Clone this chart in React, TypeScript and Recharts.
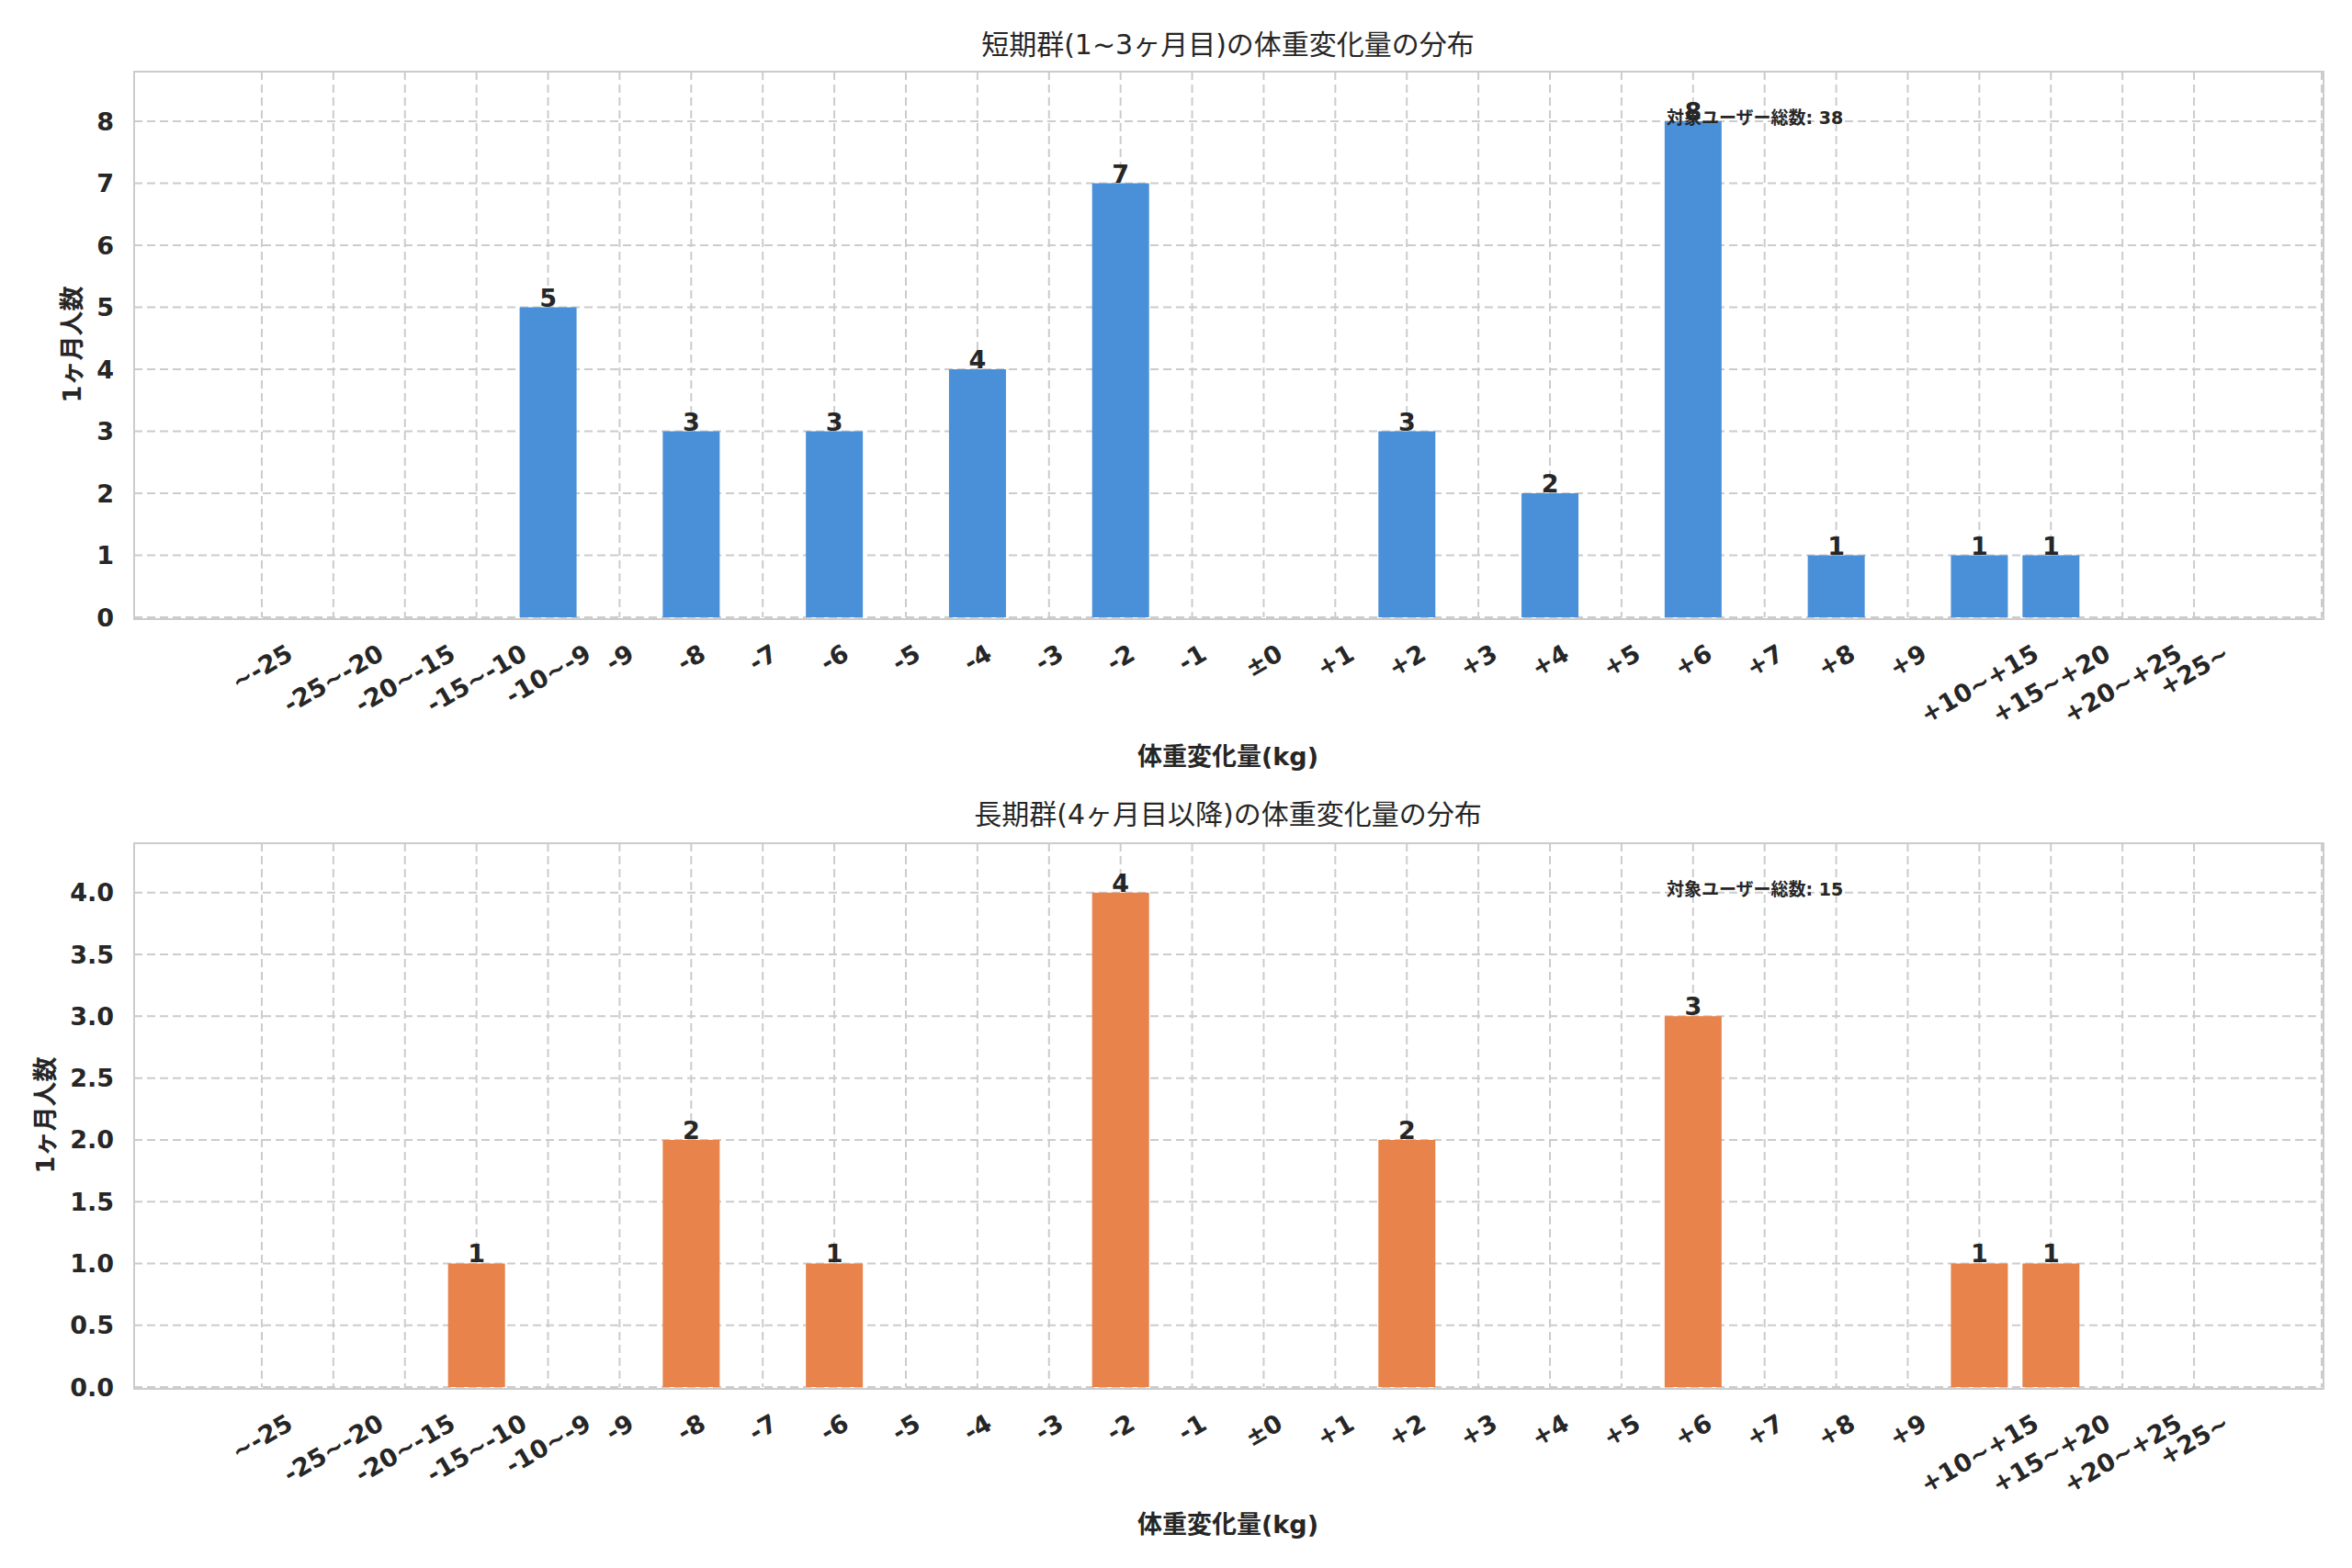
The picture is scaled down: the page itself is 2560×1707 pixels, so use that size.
import React from "react";
import { BarChart, Bar, XAxis, YAxis, CartesianGrid, LabelList } from "recharts";

// weight-change bins (kg)
const bins = [
  "~-25", "-25~-20", "-20~-15", "-15~-10", "-10~-9",
  "-9", "-8", "-7", "-6", "-5", "-4", "-3", "-2", "-1",
  "±0",
  "+1", "+2", "+3", "+4", "+5", "+6", "+7", "+8", "+9",
  "+10~+15", "+15~+20", "+20~+25", "+25~",
];

// people per bin
const shortTermCounts = [0, 0, 0, 0, 5, 0, 3, 0, 3, 0, 4, 0, 7, 0, 0, 0, 3, 0, 2, 0, 8, 0, 1, 0, 1, 1, 0, 0];
const longTermCounts = [0, 0, 0, 1, 0, 0, 2, 0, 1, 0, 0, 0, 4, 0, 0, 0, 2, 0, 0, 0, 3, 0, 0, 0, 1, 1, 0, 0];

const shortTicks = [0, 1, 2, 3, 4, 5, 6, 7, 8];
const longTicks = [0, 0.5, 1, 1.5, 2, 2.5, 3, 3.5, 4];

const FONT = "'DejaVu Sans', 'Noto Sans CJK JP', sans-serif";
const INK = "#262626";
const GRID = "#cccccc";

const W = 2560;
const H = 1707;
const PLOT_LEFT = 146;
const PLOT_RIGHT = 2527;
const Y_AXIS_W = 100;
const X_AXIS_H = 150;

// rough DejaVu Sans Bold advance widths (em)
const charW = (c: string) => {
  if (/[0-9]/.test(c)) return 0.696;
  if (c === "-") return 0.415;
  if (c === "~" || c === "+" || c === "±") return 0.838;
  return 0.7;
};

const RotTick = (props: any) => {
  const { x, y, payload } = props;
  const fs = 27;
  const label = String(payload.value);
  const w = label.split("").reduce((s, c) => s + charW(c), 0) * fs;
  const h = fs * 1.16;
  const bh = w * 0.5 + h * 0.866;
  const cy = y + 23 + bh / 2;
  return (
    <text
      x={x}
      y={cy}
      textAnchor="middle"
      dominantBaseline="central"
      transform={`rotate(-30 ${x} ${cy})`}
      fontFamily={FONT}
      fontWeight="bold"
      fontSize={fs}
      fill={INK}
    >
      {label}
    </text>
  );
};

const BarValue = (props: any) => {
  const { x, y, width, value } = props;
  if (!value) return null;
  return (
    <text
      x={x + width / 2}
      y={y - 1}
      textAnchor="middle"
      fontFamily={FONT}
      fontWeight="bold"
      fontSize={27}
      fill={INK}
    >
      {value}
    </text>
  );
};

type PanelProps = {
  top: number;
  height: number;
  plotTop: number;
  plotBottom: number;
  counts: number[];
  color: string;
  ticks: number[];
  yMax: number;
  fmt: (v: number) => string;
  title: string;
  titleY: number;
  yLabel: string;
  yLabelX: number;
  xLabelY: number;
};

function Panel(p: PanelProps) {
  const data = bins.map((bin, i) => ({ bin, count: p.counts[i] }));
  const total = p.counts.reduce((s, v) => s + v, 0);
  const cx = (PLOT_LEFT + PLOT_RIGHT) / 2;
  const center: React.CSSProperties = {
    position: "absolute",
    transform: "translate(-50%, -50%)",
    whiteSpace: "nowrap",
    lineHeight: 1,
    fontFamily: FONT,
    color: INK,
  };
  return (
    <>
      <div style={{ position: "absolute", left: 0, top: p.top }}>
        <BarChart
          width={W}
          height={p.height}
          data={data}
          barSize={62}
          margin={{
            top: p.plotTop - p.top,
            right: W - PLOT_RIGHT,
            left: PLOT_LEFT - Y_AXIS_W,
            bottom: p.top + p.height - p.plotBottom - X_AXIS_H,
          }}
        >
          <CartesianGrid stroke={GRID} strokeWidth={2} strokeDasharray="9 5" />
          <XAxis
            dataKey="bin"
            type="category"
            interval={0}
            height={X_AXIS_H}
            padding={{ left: 100, right: 100 }}
            tickLine={false}
            axisLine={false}
            tickSize={0}
            tickMargin={0}
            tick={<RotTick />}
          />
          <YAxis
            width={Y_AXIS_W}
            domain={[0, p.yMax]}
            ticks={p.ticks}
            tickFormatter={p.fmt}
            tickLine={false}
            axisLine={false}
            tickSize={0}
            tickMargin={22}
            tick={{ fontFamily: FONT, fontWeight: "bold", fontSize: 27, fill: INK }}
          />
          <Bar dataKey="count" fill={p.color} isAnimationActive={false}>
            <LabelList dataKey="count" content={<BarValue />} />
          </Bar>
        </BarChart>
      </div>
      {/* axes frame */}
      <div
        style={{
          position: "absolute",
          left: PLOT_LEFT - 1,
          top: p.plotTop - 1,
          width: PLOT_RIGHT - PLOT_LEFT,
          height: p.plotBottom - p.plotTop,
          border: `2px solid ${GRID}`,
          pointerEvents: "none",
        }}
      />
      <div style={{ ...center, left: cx, top: p.titleY, fontSize: 30 }}>{p.title}</div>
      <div style={{ ...center, left: cx, top: p.xLabelY, fontSize: 27, fontWeight: "bold" }}>
        体重変化量(kg)
      </div>
      <div
        style={{
          ...center,
          left: p.yLabelX,
          top: (p.plotTop + p.plotBottom) / 2,
          fontSize: 27,
          fontWeight: "bold",
          transform: "translate(-50%, -50%) rotate(-90deg)",
        }}
      >
        {p.yLabel}
      </div>
      <div
        style={{
          position: "absolute",
          left: 1814,
          top: p.plotTop + 50,
          transform: "translateY(-50%)",
          whiteSpace: "nowrap",
          lineHeight: 1,
          fontFamily: FONT,
          color: INK,
          fontSize: 19,
          fontWeight: "bold",
        }}
      >
        対象ユーザー総数: {total}
      </div>
    </>
  );
}

export default function App() {
  return (
    <div
      style={{
        position: "absolute",
        left: 0,
        top: 0,
        width: W,
        height: H,
        background: "#ffffff",
        overflow: "hidden",
      }}
    >
      <Panel
        top={0}
        height={853}
        plotTop={78}
        plotBottom={672}
        counts={shortTermCounts}
        color="#4a90d9"
        ticks={shortTicks}
        yMax={8.8}
        fmt={(v) => String(v)}
        title="短期群(1~3ヶ月目)の体重変化量の分布"
        titleY={49}
        yLabel="1ヶ月人数"
        yLabelX={78}
        xLabelY={823}
      />
      <Panel
        top={853}
        height={854}
        plotTop={918}
        plotBottom={1510}
        counts={longTermCounts}
        color="#e8834b"
        ticks={longTicks}
        yMax={4.4}
        fmt={(v) => v.toFixed(1)}
        title="長期群(4ヶ月目以降)の体重変化量の分布"
        titleY={887}
        yLabel="1ヶ月人数"
        yLabelX={49}
        xLabelY={1659}
      />
    </div>
  );
}
